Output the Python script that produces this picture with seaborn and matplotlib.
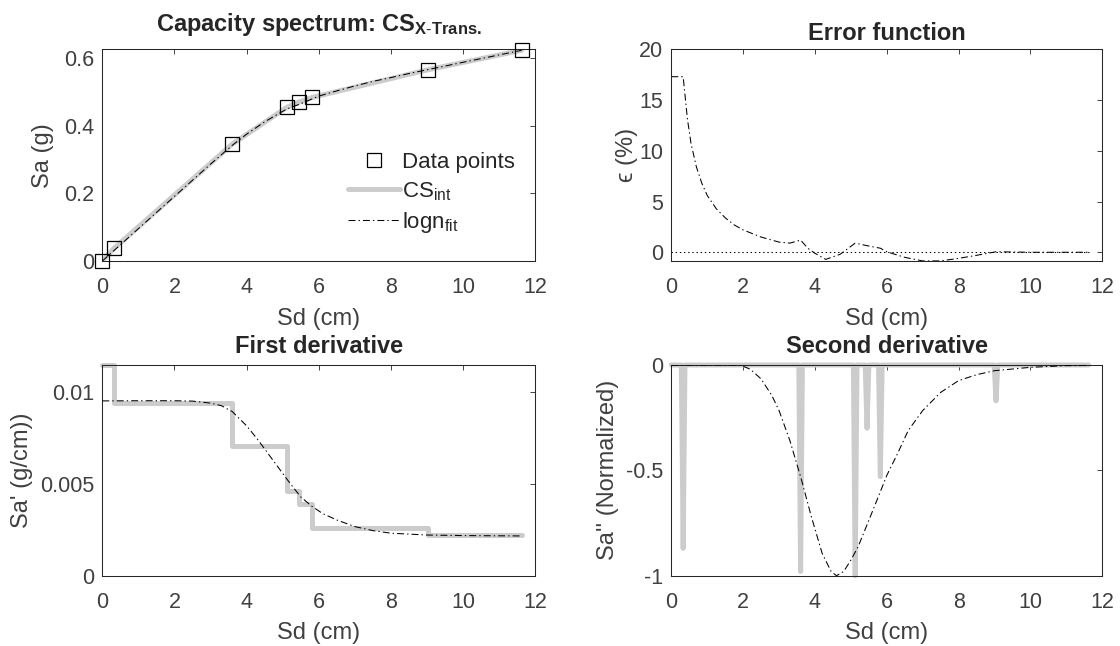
import matplotlib
matplotlib.use("Agg")
import matplotlib.pyplot as plt
import seaborn as sns

# ---------------- data ----------------
sd_pts = [0.0, 0.33, 3.60, 5.12, 5.45, 5.82, 9.04, 11.62]
sa_pts = [0.0, 0.038, 0.345, 0.454, 0.469, 0.483, 0.565, 0.622]

fit_sd = [0, 0.5, 1, 1.5, 2, 2.5, 3, 3.6, 4, 4.5, 5.1, 5.5, 6, 6.5, 7, 7.5, 8, 8.5, 9, 10, 11, 11.62]
fit_sa = [0, 0.0477, 0.0954, 0.1431, 0.1908, 0.2384, 0.2861, 0.3414, 0.3745, 0.411, 0.448,
          0.4643, 0.4868, 0.5023, 0.5169, 0.5303, 0.5415, 0.5535, 0.5645, 0.5867, 0.6085, 0.622]

err_sd = [0, 0.33, 0.45, 0.55, 0.7, 0.85, 1.0, 1.25, 1.5, 1.75, 2.0, 2.5, 3.0, 3.3, 3.6, 3.8,
          4.0, 4.3, 4.7, 5.12, 5.45, 5.82, 6.0, 6.5, 7.0, 7.5, 8.0, 8.5, 9.04, 10, 11, 11.62]
err_pct = [17.3, 17.3, 13.1, 10.7, 8.4, 6.8, 5.6, 4.3, 3.4, 2.7, 2.2, 1.5, 1.0, 0.9, 1.2, 0.4,
           -0.1, -0.7, -0.2, 0.9, 0.65, 0.4, 0.05, -0.5, -0.85, -0.85, -0.6, -0.3, 0.05, 0.0, 0.0, 0.0]

d1_int = [0.0115, 0.0094, 0.0071, 0.0046, 0.0039, 0.0026, 0.0022]
d1_fit_sd = [0, 1, 2, 2.5, 3.0, 3.3, 3.6, 4.0, 4.3, 4.6, 4.9, 5.2, 5.5, 5.8, 6.1, 6.5, 7.0,
             7.5, 8.0, 9.0, 10, 11.62]
d1_fit = [0.00954, 0.00955, 0.00955, 0.00953, 0.00942, 0.00928, 0.00896, 0.00818, 0.00745,
          0.00665, 0.00585, 0.00505, 0.0043, 0.0038, 0.0034, 0.00304, 0.00268, 0.00246,
          0.00232, 0.00222, 0.00219, 0.00217]

d2_int_sd = [0, 0.28, 0.33, 0.38, 3.55, 3.60, 3.65, 5.07, 5.12, 5.17, 5.40, 5.45, 5.50,
             5.77, 5.82, 5.87, 8.99, 9.04, 9.09, 11.62]
d2_int = [0, 0, -0.87, 0, 0, -0.98, 0, 0, -1.0, 0, 0, -0.30, 0, 0, -0.53, 0, 0, -0.17, 0, 0]
d2_fit_sd = [0, 1.9, 2.0, 2.2, 2.5, 2.8, 3.0, 3.3, 3.6, 3.9, 4.2, 4.45, 4.6, 4.8, 5.0, 5.2,
             5.5, 5.8, 6.0, 6.3, 6.6, 7.0, 7.5, 8.0, 8.5, 9.0, 10, 11, 11.62]
d2_fit = [0, 0, -0.006, -0.02, -0.066, -0.145, -0.216, -0.358, -0.53, -0.72, -0.894, -0.98,
          -1.0, -0.98, -0.926, -0.863, -0.737, -0.61, -0.524, -0.42, -0.31, -0.216, -0.13,
          -0.074, -0.046, -0.027, -0.011, -0.003, -0.002]

xticks = [0, 2, 4, 6, 8, 10, 12]
yt_sa = [0, 0.2, 0.4, 0.6]
yt_sa_lbl = ["0", "0.2", "0.4", "0.6"]
yt_err = [0, 5, 10, 15, 20]
yt_d1 = [0, 0.005, 0.01]
yt_d1_lbl = ["0", "0.005", "0.01"]
yt_d2 = [-1, -0.5, 0]
yt_d2_lbl = ["-1", "-0.5", "0"]

# ---------------- style ----------------
sns.set_style("white")
plt.rcParams["font.family"] = ["Liberation Sans", "DejaVu Sans"]
plt.rcParams["mathtext.fontset"] = "custom"
plt.rcParams["mathtext.rm"] = "Liberation Sans"
plt.rcParams["mathtext.it"] = "Liberation Sans:italic"
plt.rcParams["mathtext.bf"] = "Liberation Sans:bold"
plt.rcParams["axes.unicode_minus"] = False
plt.rcParams["lines.scale_dashes"] = False

FS_TICK = 15.5
FS_LAB = 17
FS_TITLE = 17
FS_LEG = 16
AX_C = "#262626"
TXT_C = "#404040"
GRAY = "#cccccc"
DASHDOT = (0, (5, 2.2, 1, 2.2))

fig = plt.figure(figsize=(11.2, 6.46), dpi=100)
W, H = 1120, 646
def pos(l, t, r, b):
    return [l / W, 1 - b / H, (r - l) / W, (b - t) / H]

ax1 = fig.add_axes(pos(102.3, 49.3, 535.3, 261))
ax2 = fig.add_axes(pos(671.3, 49.3, 1102.3, 261))
ax3 = fig.add_axes(pos(102.3, 365, 535.3, 575.7))
ax4 = fig.add_axes(pos(671.3, 365, 1102.3, 575.7))

def style(ax, ylab, ylab_x):
    for s in ax.spines.values():
        s.set_color(AX_C)
        s.set_linewidth(0.75)
        s.set_visible(True)
    ax.tick_params(direction="in", top=True, right=True, length=3.6, width=0.6,
                   color=AX_C, labelcolor=TXT_C, labelsize=FS_TICK)
    ax.tick_params(axis="x", pad=11.5)
    ax.tick_params(axis="y", pad=6)
    ax.set_xlim(0, 12)
    ax.set_xticks(xticks)
    ax.set_xticklabels([str(v) for v in xticks])
    ax.set_xlabel("Sd (cm)", fontsize=FS_LAB, color=TXT_C)
    ax.xaxis.label.set_va("center")
    ax.xaxis.set_label_coords(0.5, -0.272)
    ax.set_ylabel(ylab, fontsize=FS_LAB, color=TXT_C)
    ax.yaxis.label.set_va("center")
    ax.yaxis.set_label_coords(ylab_x, 0.5)
    ax.grid(False)

# ---- panel 1 ----
sns.lineplot(x=sd_pts, y=sa_pts, ax=ax1, color=GRAY, lw=3.6, estimator=None,
             solid_joinstyle="round", zorder=2, label="CS$_{\\mathrm{int}}$")
sns.lineplot(x=fit_sd, y=fit_sa, ax=ax1, color="black", lw=0.75, estimator=None,
             linestyle=DASHDOT, zorder=3, label="logn$_{\\mathrm{fit}}$")
sns.lineplot(x=sd_pts, y=sa_pts, ax=ax1, color="black", linestyle="none", marker="s",
             markersize=9.5, markerfacecolor="none", markeredgecolor="black",
             markeredgewidth=0.9, estimator=None, zorder=4, clip_on=False,
             label="Data points")
style(ax1, "Sa (g)", -0.137)
ax1.set_ylim(0, 0.625)
ax1.set_yticks(yt_sa)
ax1.set_yticklabels(yt_sa_lbl)
ax1.set_title("Capacity spectrum: CS$_{\\mathbf{X\\text{-}Trans.}}$", fontsize=FS_TITLE,
              fontweight="bold", pad=13)
h, l = ax1.get_legend_handles_labels()
order = [l.index("Data points"), l.index("CS$_{\\mathrm{int}}$"), l.index("logn$_{\\mathrm{fit}}$")]
ax1.legend([h[i] for i in order], [l[i] for i in order], frameon=False, fontsize=FS_LEG,
           loc="upper left", bbox_to_anchor=(0.5674, 0.515), borderpad=0, borderaxespad=0,
           handlelength=2.35, handletextpad=0.1, labelspacing=0.32, numpoints=1)

# ---- panel 2 ----
sns.lineplot(x=[0, sd_pts[-1]], y=[0, 0], ax=ax2, color="black", lw=0.75,
             linestyle=(0, (1, 2)), estimator=None)
sns.lineplot(x=err_sd, y=err_pct, ax=ax2, color="black", lw=0.75, linestyle=DASHDOT,
             estimator=None)
style(ax2, "ϵ (%)", -0.1035)
ax2.set_ylim(-0.86, 20)
ax2.set_yticks(yt_err)
ax2.set_yticklabels([str(v) for v in yt_err])
ax2.set_title("Error function", fontsize=FS_TITLE, fontweight="bold", pad=6.5)

# ---- panel 3 ----
sns.lineplot(x=sd_pts, y=d1_int + [d1_int[-1]], ax=ax3, color=GRAY, lw=3.6,
             drawstyle="steps-post", estimator=None, clip_on=False, zorder=2)
sns.lineplot(x=d1_fit_sd, y=d1_fit, ax=ax3, color="black", lw=0.75, linestyle=DASHDOT,
             estimator=None, zorder=3)
style(ax3, "Sa' (g/cm))", -0.1866)
ax3.set_ylim(0, 0.0115)
ax3.set_yticks(yt_d1)
ax3.set_yticklabels(yt_d1_lbl)
ax3.set_title("First derivative", fontsize=FS_TITLE, fontweight="bold", pad=8.5)

# ---- panel 4 ----
sns.lineplot(x=d2_int_sd, y=d2_int, ax=ax4, color=GRAY, lw=3.6, estimator=None,
             clip_on=False, zorder=2, solid_joinstyle="round", solid_capstyle="round")
sns.lineplot(x=d2_fit_sd, y=d2_fit, ax=ax4, color="black", lw=0.75, linestyle=DASHDOT,
             estimator=None, zorder=3)
style(ax4, "Sa'' (Normalized)", -0.147)
ax4.set_ylim(-1, 0)
ax4.set_yticks(yt_d2)
ax4.set_yticklabels(yt_d2_lbl)
ax4.set_title("Second derivative", fontsize=FS_TITLE, fontweight="bold", pad=8.5)

fig.savefig("out.png", dpi=100)
